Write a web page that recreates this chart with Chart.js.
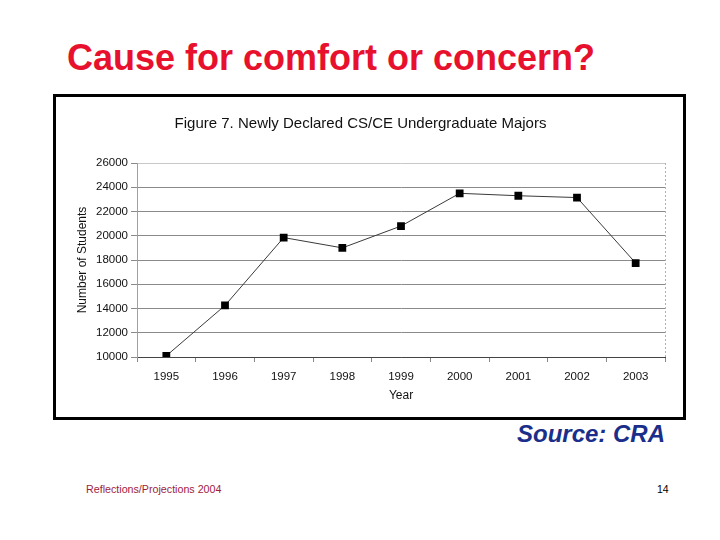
<!DOCTYPE html>
<html>
<head>
<meta charset="utf-8">
<script src="https://cdn.jsdelivr.net/npm/chart.js@4"></script>
<style>
  body { margin: 0; background: #fff; width: 720px; height: 540px; position: relative; overflow: hidden; font-family: "Liberation Sans", Arial, sans-serif; }
  #slideTitle { position: absolute; left: 67px; top: 37px; font-size: 36px; font-weight: bold; color: #e8112d; white-space: nowrap; }
  #frame { position: absolute; left: 53px; top: 94px; width: 627px; height: 320px; border: 3px solid #000; }
  #source { position: absolute; left: 517px; top: 420px; font-size: 24px; font-style: italic; font-weight: bold; color: #1b2f8a; white-space: nowrap; }
  #footer { position: absolute; left: 86px; top: 483px; font-size: 10.7px; color: #a01c3c; }
  #pageNo { position: absolute; left: 657px; top: 483px; font-size: 10.5px; color: #000; }
</style>
</head>
<body>
<div id="slideTitle">Cause for comfort or concern?</div>
<div id="frame"><canvas id="myChart" width="627" height="320"></canvas></div>
<div id="source">Source: CRA</div>
<div id="footer">Reflections/Projections 2004</div>
<div id="pageNo">14</div>

<script>
// data
const years = ["1995", "1996", "1997", "1998", "1999", "2000", "2001", "2002", "2003"];
const students = [10100, 14250, 19850, 19000, 20800, 23500, 23300, 23150, 17750];
const yMin = 10000;
const yMax = 26000;
const yStep = 2000;

// dotted right edge of the plot, like the scanned excel chart
const rightEdge = {
  id: "rightEdge",
  beforeDatasetsDraw(chart) {
    const { ctx, chartArea } = chart;
    ctx.save();
    ctx.strokeStyle = "#b0b0b0";
    ctx.lineWidth = 1;
    ctx.setLineDash([2, 2]);
    ctx.beginPath();
    ctx.moveTo(chartArea.right + 0.5, chartArea.top);
    ctx.lineTo(chartArea.right + 0.5, chartArea.bottom);
    ctx.stroke();
    ctx.restore();
  }
};

const config = {
  type: "line",
  data: {
    labels: years,
    datasets: [
      {
        label: "Newly Declared Majors",
        data: students,
        borderColor: "#3a3a3a",
        borderWidth: 1,
        pointStyle: "rect",
        pointRadius: 5.5,
        pointBackgroundColor: "#000",
        pointBorderColor: "#000",
        pointBorderWidth: 0,
        tension: 0
      }
    ]
  },
  options: {
    responsive: false,
    animation: false,
    layout: {
      padding: { top: 10, right: 18, bottom: 10, left: 0 }
    },
    plugins: {
      legend: { display: false },
      tooltip: { enabled: false },
      title: {
        display: true,
        text: "Figure 7. Newly Declared CS/CE Undergraduate Majors",
        color: "#111",
        font: { family: "Liberation Sans", size: 15, weight: "normal" },
        padding: { top: 8, bottom: 30 }
      }
    },
    scales: {
      x: {
        offset: true,
        grid: {
          offset: true,
          drawOnChartArea: false,
          drawTicks: true,
          tickLength: 5,
          tickColor: "#888"
        },
        border: { color: "#444", width: 1 },
        ticks: {
          color: "#111",
          padding: 8,
          font: { family: "Liberation Sans", size: 11.5 }
        },
        title: {
          display: true,
          text: "Year",
          color: "#111",
          font: { family: "Liberation Sans", size: 12 },
          padding: { top: 4, bottom: 4 }
        },
        afterFit: (s) => { s.height = 50; }
      },
      y: {
        min: yMin,
        max: yMax,
        ticks: {
          stepSize: yStep,
          color: "#111",
          padding: 3,
          font: { family: "Liberation Sans", size: 11.5 },
          callback: (v) => String(v)
        },
        grid: {
          color: (c) => (c.tick && c.tick.value === yMax ? "#c8c8c8" : "#8a8a8a"),
          tickLength: 6,
          tickColor: "#8a8a8a"
        },
        border: { color: "#a0a0a0", width: 1 },
        title: {
          display: true,
          text: "Number of Students",
          color: "#111",
          font: { family: "Liberation Sans", size: 12 },
          padding: { top: 19, bottom: 0 }
        },
        afterFit: (s) => { s.width = 81; }
      }
    }
  },
  plugins: [rightEdge]
};

new Chart(document.getElementById("myChart").getContext("2d"), config);
</script>
</body>
</html>
